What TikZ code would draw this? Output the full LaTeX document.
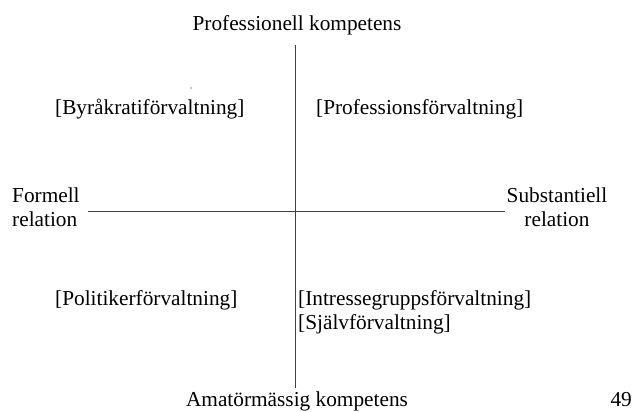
\documentclass[tikz,border=0pt]{standalone}
\usepackage{fontspec}
\setmainfont{Liberation Serif}
\begin{document}
\begin{tikzpicture}[x=1pt, y=-1pt,
    lbl/.style={inner sep=0pt, font=\fontsize{21.3}{24}\selectfont},
    axis/.style={draw=black!75, line width=0.9pt}]
    \useasboundingbox (0,0) rectangle (633,412);

    % axes
    \coordinate (top) at (295,45);
    \coordinate (bottom) at (295,388);
    \coordinate (left) at (88,211);
    \coordinate (right) at (505,211);
    \draw[axis] (top) -- (bottom);
    \draw[axis] (left) -- (right);

    % axis labels
    \node[lbl, anchor=base] (prof) at (297,31) {Professionell kompetens};
    \node[lbl, anchor=base] (amat) at (297,406) {Amatörmässig kompetens};
    \node[lbl, anchor=base west, align=left] (form) at (12,226) {Formell\\relation};
    \node[lbl, anchor=base, align=center] (subst) at (557,226) {Substantiell\\relation};

    % quadrants
    \node[lbl, anchor=base west] (byr) at (55,115) {[Byråkratiförvaltning]};
    \node[lbl, anchor=base west] (pfv) at (316,115) {[Professionsförvaltning]};
    \node[lbl, anchor=base west] (pol) at (55,305) {[Politikerförvaltning]};
    \node[lbl, anchor=base west, align=left] (intr) at (298,329) {[Intressegruppsförvaltning]\\{}[Självförvaltning]};

    \fill (191,88) circle (0.7pt);
    \node[lbl, anchor=base east] (page) at (632,406) {49};
\end{tikzpicture}
\end{document}
